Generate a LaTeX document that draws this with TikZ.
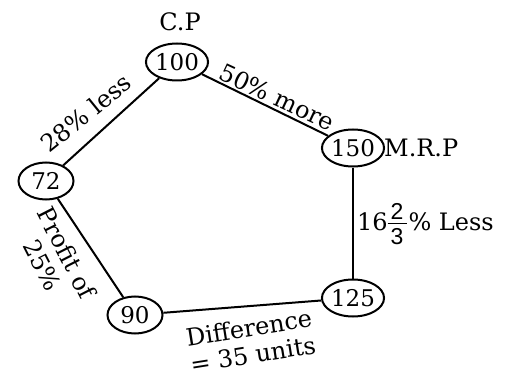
\documentclass[tikz,border=0pt]{standalone}
\usepackage{fontspec}
\usetikzlibrary{shapes.geometric}
\setmainfont{DejaVu Serif}
\newfontfamily\fracfont{Liberation Sans}
\newcommand{\myfrac}[2]{$\vcenter{\offinterlineskip\halign{\hfil\kern3pt##\kern3pt\hfil\cr
  \fracfont\fontsize{23}{23}\selectfont #1\cr
  \noalign{\kern4pt\hrule height 1pt\kern4pt}
  \fracfont\fontsize{23}{23}\selectfont #2\cr}}$}
\begin{document}
\begin{tikzpicture}[x=1pt,y=-1pt,
  every node/.style={font=\fontsize{24}{27}\selectfont},
  val/.style={draw,ellipse,line width=2pt,minimum width=55pt,minimum height=37pt,inner sep=0pt},
  valtext/.style={font=\fontsize{23}{26}\selectfont},
  conn/.style={line width=2pt},
  lbl/.style={inner sep=0pt,align=center}]
\useasboundingbox (0,0) rectangle (506,377);
\node[val,valtext] (a) at (177,62) {100};
\node[val,valtext] (b) at (353,148) {150};
\node[val,valtext] (c) at (353,298) {125};
\node[val,valtext] (d) at (135,315) {90};
\node[val,valtext] (e) at (46,181) {72};
\node[lbl] (cp) at (180,22) {C.P};
\node[lbl,anchor=west] (mrp) at (384,148) {M.R.P};
\draw[conn] (a) -- (b);
\draw[conn] (b) -- (c);
\draw[conn] (c) -- (d);
\draw[conn] (d) -- (e);
\draw[conn] (e) -- (a);
\node[lbl,rotate=-25] (l1) at (277,97) {50\% more};
\node[lbl,rotate=39] (l2) at (86,113) {28\% less};
\node[lbl,rotate=-63] (l3) at (55,259) {Profit of\\25\%};
\node[lbl,rotate=9,align=left] (l4) at (251,341) {Difference\\= 35 units};
\node[lbl,anchor=west] (l5) at (357,224) {16\myfrac{2}{3}\kern2pt\% Less};
\end{tikzpicture}
\end{document}
